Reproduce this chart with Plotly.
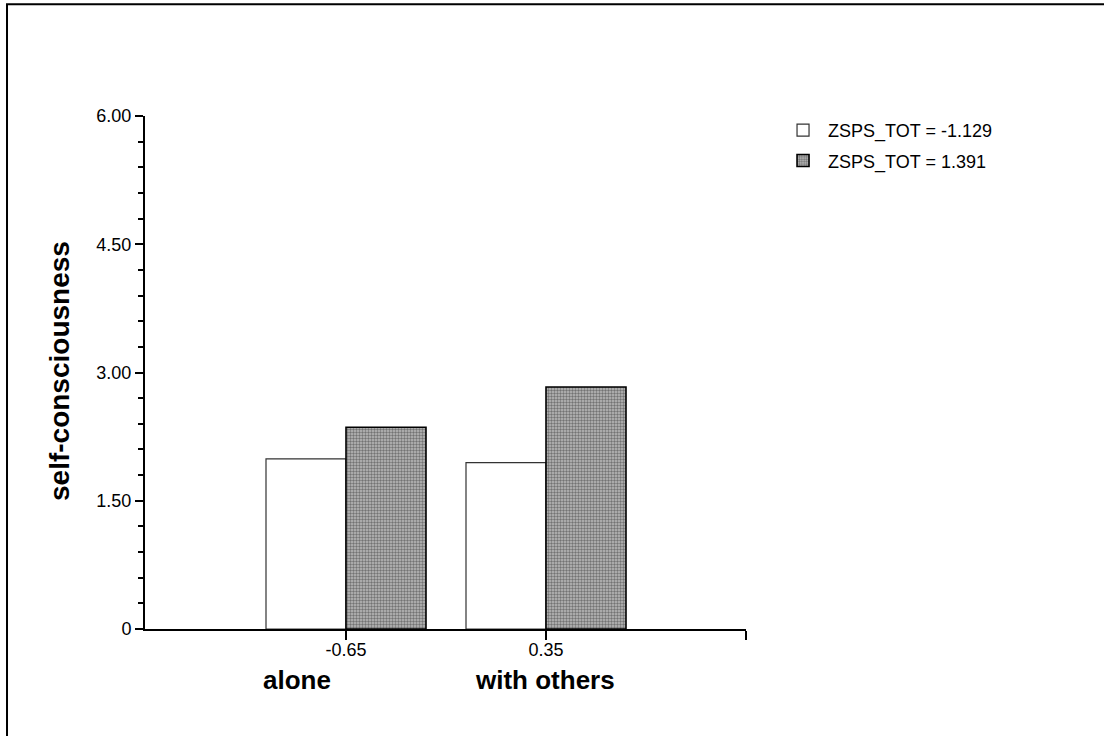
import plotly.graph_objects as go

# ---- data ----
conditions = ["alone", "with others"]
x_values = [-0.65, 0.35]
x_tick_labels = ["-0.65", "0.35"]
series_names = ["ZSPS_TOT = -1.129", "ZSPS_TOT = 1.391"]
low_spst = [1.99, 1.945]
high_spst = [2.36, 2.83]
y_tick_vals = [0, 1.5, 3.0, 4.5, 6.0]
y_tick_text = ["0", "1.50", "3.00", "4.50", "6.00"]

FONT = "Arial, 'Liberation Sans', sans-serif"

fig = go.Figure()
fig.add_trace(go.Bar(
    x=x_values, y=low_spst, name=series_names[0], legendgroup="a",
    width=0.4, offset=-0.4,
    marker=dict(color="white", line=dict(color="#333333", width=1.2)),
))
fig.add_trace(go.Bar(
    x=x_values, y=high_spst, name=series_names[1], legendgroup="b",
    width=0.4, offset=0.0,
    marker=dict(color="white", line=dict(color="black", width=1.6),
                pattern=dict(shape=".", size=3, solidity=0.5,
                             fgcolor="#2a2a2a", bgcolor="#bcbcbc",
                             fillmode="overlay")),
))

# category labels under the ticks
label_x = [-0.895, 0.345]
for name, lx in zip(conditions, label_x):
    fig.add_annotation(x=lx, y=-0.1, xref="x", yref="paper", text="<b>%s</b>" % name,
                       showarrow=False, font=dict(family=FONT, size=26, color="black"),
                       xanchor="center", yanchor="middle")

# y-axis title
fig.add_annotation(x=-0.1414, y=0.503, xref="paper", yref="paper",
                   text="<b>self-consciousness</b>", textangle=-90, showarrow=False,
                   font=dict(family=FONT, size=28, color="black"),
                   xanchor="center", yanchor="middle")

# outer frame
fig.add_shape(type="rect", xref="paper", yref="paper",
              x0=-0.2296, x1=1.61, y0=-0.22, y1=1.218,
              line=dict(color="black", width=2), fillcolor="rgba(0,0,0,0)", layer="below")

fig.update_layout(
    width=1104, height=736,
    margin=dict(l=145, r=358, t=116, b=107),
    paper_bgcolor="white", plot_bgcolor="white",
    font=dict(family=FONT, color="black"),
    barmode="overlay",
    showlegend=True,
    legend=dict(x=1.0533, y=1.008, xanchor="left", yanchor="top",
                traceorder="grouped",
                font=dict(family=FONT, size=18, color="black"),
                bgcolor="rgba(0,0,0,0)", tracegroupgap=4, itemwidth=40),
    xaxis=dict(range=[-1.655, 1.35], tickvals=x_values + [1.35],
               ticktext=x_tick_labels + [""], ticks="outside", ticklen=9, tickwidth=2,
               tickcolor="black", showline=True, linecolor="black", linewidth=2,
               showgrid=False, zeroline=False, tickfont=dict(family=FONT, size=18),
               ticklabelstandoff=-6),
    yaxis=dict(range=[0, 6], tickvals=y_tick_vals, ticktext=y_tick_text,
               ticks="outside", ticklen=8, tickwidth=2, tickcolor="black",
               showline=True, linecolor="black", linewidth=2, showgrid=False,
               zeroline=False, tickfont=dict(family=FONT, size=18),
               minor=dict(dtick=0.3, ticks="outside", ticklen=5, tickwidth=2,
                          tickcolor="black", showgrid=False)),
)

fig.write_html("out.html", config={"displayModeBar": False},
               post_script="document.body.style.margin='0';")
